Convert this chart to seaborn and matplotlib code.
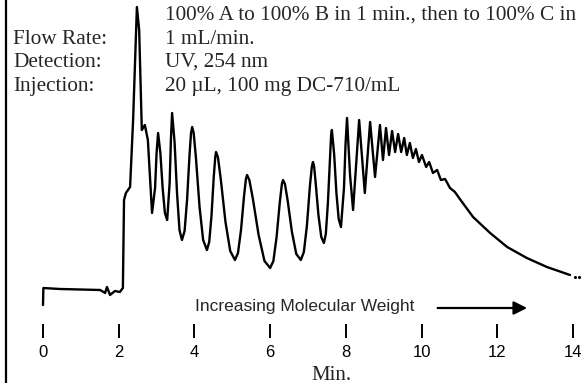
"""
GPC chromatogram of DC-710 (UV 254 nm), redrawn with seaborn.
"""

import numpy as np
import pandas as pd
import matplotlib
matplotlib.use('Agg')
import matplotlib.pyplot as plt
import seaborn as sns
from matplotlib.lines import Line2D

# retention time (min) and detector response (arbitrary units)
time_min = [
    0.00, 0.01, 0.45, 1.51, 1.64, 1.69, 1.77, 1.90, 2.03, 2.11,
    2.14, 2.19, 2.30, 2.38, 2.48, 2.54, 2.61, 2.69, 2.77, 2.88,
    2.96, 3.00, 3.04, 3.10, 3.16, 3.22, 3.28, 3.345, 3.38, 3.41,
    3.475, 3.54, 3.605, 3.67, 3.74, 3.805, 3.87, 3.91, 3.94, 3.98,
    4.04, 4.135, 4.23, 4.33, 4.39, 4.45, 4.51, 4.55, 4.57, 4.62,
    4.695, 4.82, 4.945, 5.07, 5.15, 5.23, 5.31, 5.36, 5.39, 5.45,
    5.54, 5.695, 5.85, 6.00, 6.085, 6.17, 6.255, 6.31, 6.34, 6.39,
    6.46, 6.575, 6.69, 6.81, 6.89, 6.97, 7.05, 7.10, 7.13, 7.16,
    7.20, 7.275, 7.35, 7.42, 7.47, 7.525, 7.58, 7.61, 7.63, 7.69,
    7.75, 7.81, 7.87, 7.95, 7.99, 8.03, 8.11, 8.19, 8.35, 8.50,
    8.64, 8.77, 8.90, 8.98, 9.06, 9.14, 9.22, 9.30, 9.38, 9.46,
    9.54, 9.61, 9.69, 9.77, 9.85, 9.93, 10.01, 10.12, 10.20, 10.30,
    10.41, 10.51, 10.62, 10.75, 10.88, 11.01, 11.36, 11.81, 12.26, 12.78,
    13.31, 13.92,
]
response = [
    33, 50, 49, 48, 45, 51, 43, 47, 46, 50,
    138, 145, 151, 218, 331, 308, 208, 213, 198, 125,
    150, 185, 205, 185, 150, 125, 118, 155, 200, 225,
    196, 145, 108, 98, 107, 138, 183, 205, 211, 205,
    180, 131, 98, 88, 96, 122, 161, 181, 186, 181,
    159, 116, 87, 78, 85, 108, 142, 159, 163, 158,
    140, 103, 77, 70, 77, 101, 136, 154, 158, 154,
    138, 106, 84, 78, 86, 112, 152, 171, 176, 172,
    156, 123, 101, 95, 104, 135, 180, 203, 208, 184,
    145, 119, 111, 150, 193, 220, 163, 128, 218, 145,
    216, 161, 213, 178, 210, 183, 207, 186, 204, 186,
    200, 183, 195, 180, 189, 176, 183, 171, 176, 165,
    168, 158, 159, 150, 146, 139, 121, 105, 91, 80,
    71, 63,
]
# faint dots where the recorder trace fades out
tail_time = [14.05, 14.16]
tail_resp = [61, 61]

tick_minutes = [0, 2, 4, 6, 8, 10, 12, 14]

conditions = [
    ('', '100% A to 100% B in 1 min., then to 100% C in'),
    ('Flow Rate:', '1 mL/min.'),
    ('Detection:', 'UV, 254 nm'),
    ('Injection:', '20 \u00b5L, 100 mg DC-710/mL'),
]

W, H = 582, 383


def fx(px):
    return px / W


def fy(py):
    return 1 - py / H


sns.set_style('white')
plt.rcParams['font.family'] = ['Liberation Sans', 'DejaVu Sans']

fig = plt.figure(figsize=(W / 100, H / 100), dpi=100)
ax = fig.add_axes([fx(20), fy(338), fx(560), 338 / H])

df = pd.DataFrame({'time': time_min, 'signal': response})
sns.lineplot(data=df, x='time', y='signal', ax=ax, color='black',
             linewidth=1.7, estimator=None, sort=False)
ax.plot(tail_time, tail_resp, ls='none', marker='o', ms=1.2, color='black')

ax.set_xlim((20 - 43) / 37.86, (580 - 43) / 37.86)
ax.set_ylim(0, 338)
for s in ax.spines.values():
    s.set_visible(False)
ax.set_yticks([])
ax.set_xticks(tick_minutes)
ax.set_xticklabels([str(t) for t in tick_minutes])
ax.tick_params(axis='x', bottom=True, direction='in', length=10, width=1.4,
               pad=5, labelsize=12, colors='black')
ax.set_ylabel('')
ax.set_xlabel('Min.', family=['Liberation Serif', 'DejaVu Serif'], fontsize=15)
ax.xaxis.set_label_coords((331 - 20) / 560, (338 - 375) / 338)
ax.xaxis.label.set_va('center')

# molecular weight direction
ax.text(4.01, 31, 'Increasing Molecular Weight', fontsize=12.5,
        ha='left', va='center')
ax.annotate('', xy=(12.86, 30), xytext=(10.35, 30),
            arrowprops=dict(arrowstyle='-|>', lw=1.6, color='black',
                            mutation_scale=20))

# run conditions block
serif = ['Liberation Serif', 'DejaVu Serif']
for i, (label, value) in enumerate(conditions):
    y = 20 + i * 23.5
    if label:
        fig.text(fx(13), fy(y), label, family=serif, fontsize=15.3, va='baseline')
    fig.text(fx(165), fy(y), value, family=serif, fontsize=15.3, va='baseline')

# scanned page border on the left
fig.add_artist(Line2D([fx(6), fx(6)], [0, 1], lw=1.6, color='black'))

fig.savefig('out.png', dpi=100)
